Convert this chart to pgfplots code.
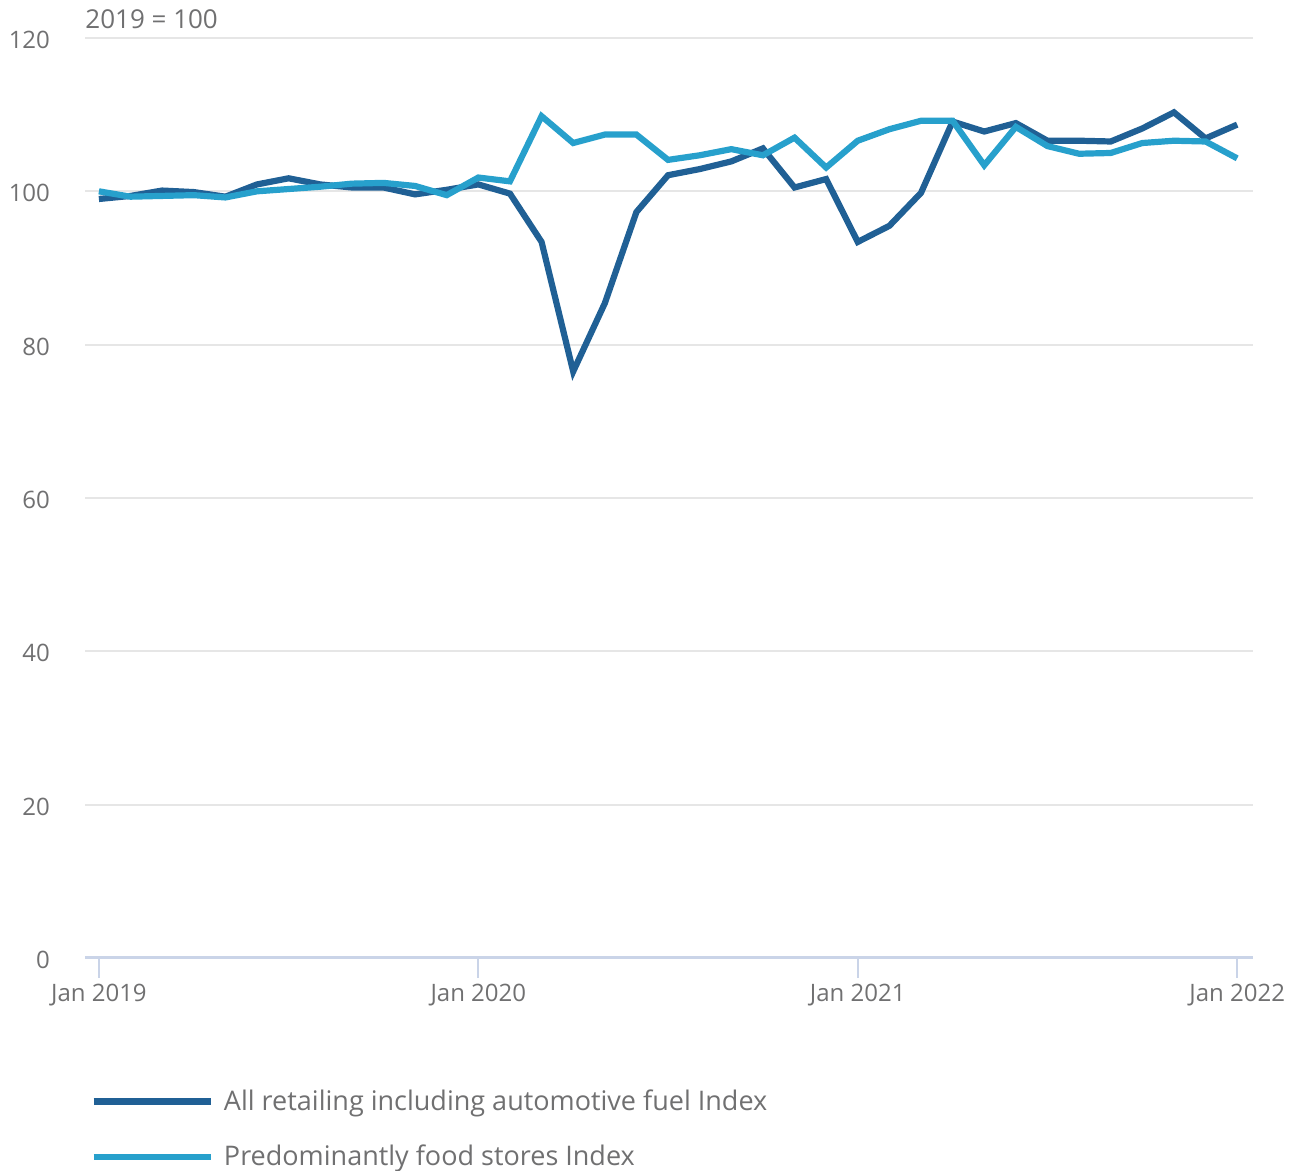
\documentclass[border=0pt]{standalone}
\usepackage{pgfplots}
\pgfplotsset{compat=1.18}
\usepackage{pgfplotstable}
\usepackage{fontspec}
\setmainfont{Open Sans}

\definecolor{onsdark}{HTML}{206095}
\definecolor{onslight}{HTML}{27A0CC}
\definecolor{txtgrey}{HTML}{707071}
\definecolor{gridgrey}{HTML}{E6E6E6}
\definecolor{axisblue}{HTML}{CAD4E8}

% months since Jan 2019, index 2019 = 100
\pgfplotstableread{
m   val
0   99.0
1   99.4
2   100.1
3   99.9
4   99.3
5   100.9
6   101.7
7   100.9
8   100.5
9   100.5
10  99.6
11  100.2
12  100.9
13  99.7
14  93.4
15  76.5
16  85.4
17  97.3
18  102.1
19  102.9
20  103.9
21  105.6
22  100.5
23  101.6
24  93.4
25  95.5
26  99.8
27  109.1
28  107.8
29  108.9
30  106.6
31  106.6
32  106.5
33  108.2
34  110.3
35  106.9
36  108.7
}\allretail

\pgfplotstableread{
m   val
0   100.0
1   99.3
2   99.4
3   99.5
4   99.2
5   100.0
6   100.3
7   100.6
8   101.0
9   101.1
10  100.7
11  99.5
12  101.8
13  101.3
14  109.8
15  106.3
16  107.4
17  107.4
18  104.1
19  104.7
20  105.5
21  104.7
22  107.0
23  103.1
24  106.6
25  108.1
26  109.2
27  109.2
28  103.4
29  108.4
30  105.9
31  104.9
32  105.0
33  106.3
34  106.6
35  106.5
36  104.3
}\foodstores

\begin{document}
\begin{tikzpicture}
  \begin{axis}[
    name=ax,
    scale only axis,
    width=584pt, height=460pt,
    xmin=-0.44, xmax=36.5,
    ymin=0, ymax=120,
    clip=false,
    axis x line*=bottom,
    axis y line*=left,
    x axis line style={draw=axisblue, line width=1.5pt},
    y axis line style={draw=none},
    xtick={0,12,24,36},
    xticklabels={Jan 2019, Jan 2020, Jan 2021, Jan 2022},
    ytick={0,20,...,120},
    ymajorgrids,
    major grid style={draw=gridgrey, line width=1pt},
    tick align=outside,
    major tick length=10pt,
    x tick style={draw=axisblue, line width=1pt},
    y tick style={draw=none},
    tick label style={font=\fontsize{12pt}{14pt}\selectfont, text=txtgrey},
    yticklabel style={anchor=east, xshift=-4pt, yshift=-1pt},
    xticklabel style={yshift=0.5pt},
    /pgf/number format/assume math mode=true,
    legend style={
      at={(0,0)}, anchor=north west, xshift=2.5pt, yshift=-65.5pt,
      draw=none, fill=none, inner sep=0pt,
      font=\fontsize{13.5pt}{16pt}\selectfont, text=txtgrey,
      nodes={inner sep=0pt, anchor=west},
      row sep=16pt, column sep=5pt,
    },
    legend cell align=left,
    legend image code/.code={\draw[#1, line width=3.3pt] (0pt,0pt) -- (58.5pt,0pt);},
  ]
  \addplot[onsdark, line width=3.1pt] table[x=m, y=val] {\allretail};
  \addlegendentry{All retailing including automotive fuel Index}
  \addplot[onslight, line width=3.1pt] table[x=m, y=val] {\foodstores};
  \addlegendentry{Predominantly food stores Index}
  \coordinate (A) at (rel axis cs:0,0);
  \coordinate (B) at (rel axis cs:1,1);
  \node[anchor=base west, inner sep=0pt, text=txtgrey,
        font=\fontsize{13pt}{15pt}\selectfont] at ([yshift=4.5pt]rel axis cs:0,1) {2019 = 100};
  \end{axis}
  \pgfresetboundingbox
  \path[use as bounding box] ([shift={(-42.5pt,-106.5pt)}]A) rectangle ([shift={(22.5pt,19pt)}]B);
\end{tikzpicture}
\end{document}
